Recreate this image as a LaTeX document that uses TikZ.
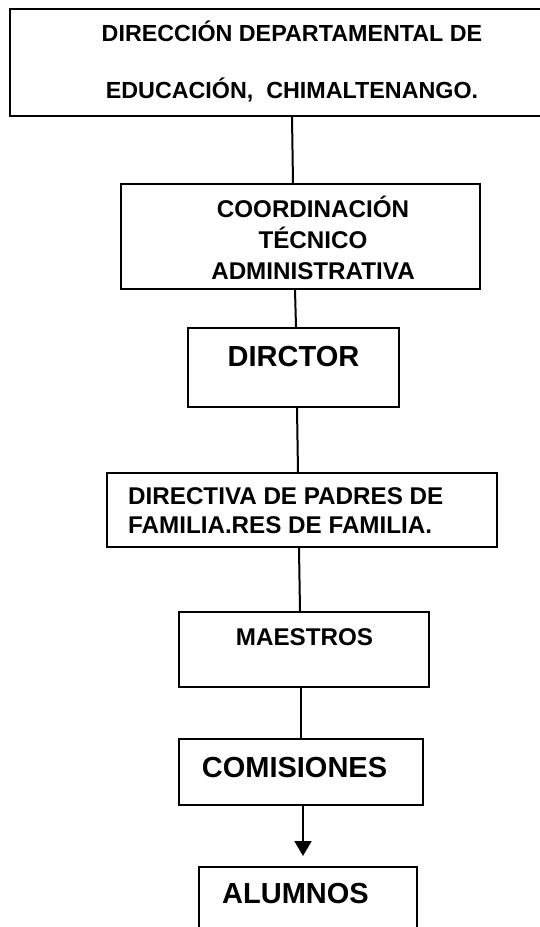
\documentclass[tikz,border=0pt]{standalone}
\usepackage{fontspec}
\setmainfont{Liberation Sans}
\usetikzlibrary{positioning, arrows.meta}

\begin{document}
\begin{tikzpicture}[x = 1pt, y = -1pt,
    every node/.style = { inner sep = 0pt },
    box/.style = { draw, line width = 2pt, shape = rectangle },
    txt/.style = { anchor = base, font = \bfseries\fontsize{#1}{#1}\selectfont },
    line/.style = { line width = 2pt }]
    \clip (0,0) rectangle (540,927);

    % boxes
    \node [box, minimum width = 564pt, minimum height = 107.5pt] (dir)    at (292,62.25)  {};
    \node [box, minimum width = 359pt, minimum height = 105pt] (coord)  at (300.5,236.5) {};
    \node [box, minimum width = 211pt, minimum height = 79pt]  (dirc)   at (293.5,367.5) {};
    \node [box, minimum width = 390pt, minimum height = 74pt]  (padres) at (302,510)   {};
    \node [box, minimum width = 250pt, minimum height = 75pt]  (maes)   at (304,649.5) {};
    \node [box, minimum width = 244pt, minimum height = 66pt]  (comi)   at (301,772)   {};
    \node [box, minimum width = 218pt, minimum height = 73pt]  (alum)   at (308,903.5) {};

    % texts
    \node [txt=23.3] (dir1) at (292,41) {DIRECCIÓN DEPARTAMENTAL DE};
    \node [txt=23.3] (dir2) at (292,98) {EDUCACIÓN,\ \ CHIMALTENANGO.};
    \node [txt=24.2] (coord1) at (313,217) {COORDINACIÓN};
    \node [txt=24.2] (coord2) at (313,248) {TÉCNICO};
    \node [txt=24.2] (coord3) at (313,279) {ADMINISTRATIVA};
    \node [txt=29] (dirc1) at (293.5,366) {DIRCTOR};
    \node [txt=24.2, anchor = base west] (padres1) at (128,504) {DIRECTIVA DE PADRES DE};
    \node [txt=24.2, anchor = base west] (padres2) at (128,533) {FAMILIA.RES DE FAMILIA.};
    \node [txt=24.2] (maes1) at (304.5,645) {MAESTROS};
    \node [txt=29] (comi1) at (294.5,777) {COMISIONES};
    \node [txt=29] (alum1) at (295.5,903) {ALUMNOS};

    % connectors
    \draw [line] (dir.south) -- ([xshift=-7.5pt]coord.north);
    \draw [line] ([xshift=-5.5pt]coord.south) -- ([xshift=2.5pt]dirc.north);
    \draw [line] ([xshift=3.5pt]dirc.south) -- ([xshift=-4pt]padres.north);
    \draw [line] ([xshift=-3pt]padres.south) -- ([xshift=-4pt]maes.north);
    \draw [line] ([xshift=-3pt]maes.south) -- (comi.north);
    \coordinate (tip) at (303,856);
    \draw [line, -{Triangle[width = 17pt, length = 15pt]}] ([xshift=2pt]comi.south) -- (tip);

\end{tikzpicture}
\end{document}
